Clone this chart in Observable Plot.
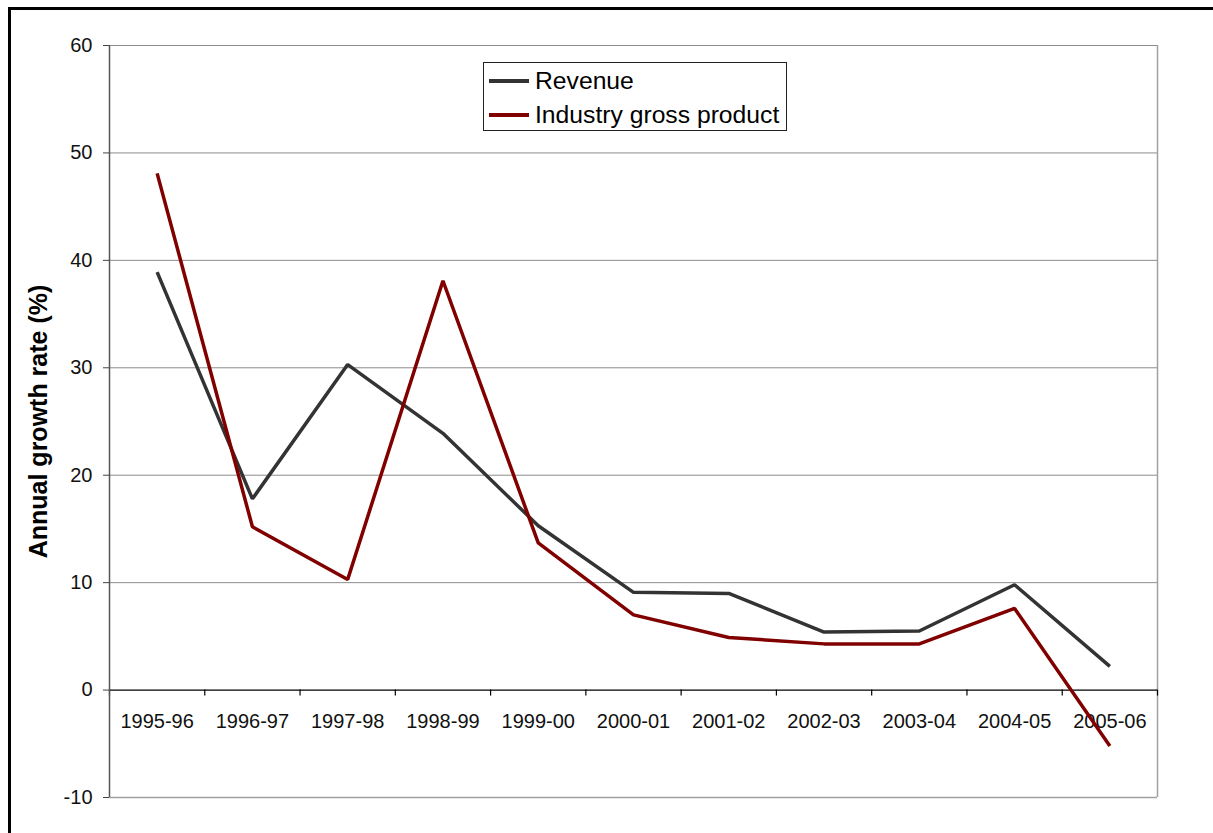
<!DOCTYPE html>
<html>
<head>
<meta charset="utf-8">
<script src="https://cdn.jsdelivr.net/npm/d3@7"></script>
<script src="https://cdn.jsdelivr.net/npm/@observablehq/plot@0.6"></script>
<style>
  html, body { margin: 0; padding: 0; background: #fff; }
  body { width: 1213px; height: 833px; position: relative; overflow: hidden; font-family: "Liberation Sans", Arial, sans-serif; }
  #border { position: absolute; left: 8px; top: 7px; width: 1300px; height: 900px; border-left: 3px solid #000; border-top: 3px solid #000; box-sizing: border-box; }
  #chart { position: absolute; left: 0; top: 0; }
  #legend { position: absolute; left: 483px; top: 62px; width: 304px; height: 69px; border: 1px solid #222; background: #fff; box-sizing: border-box; }
  .item { position: absolute; left: 5px; height: 28px; display: flex; align-items: center; font-size: 24.7px; line-height: 28px; color: #000; white-space: nowrap; }
  .swatch { width: 40px; height: 3.5px; margin-right: 6px; }
</style>
</head>
<body>
<div id="border"></div>
<div id="chart"></div>
<div id="legend"></div>
<script>
// Financial years
const years = ["1995-96", "1996-97", "1997-98", "1998-99", "1999-00", "2000-01",
               "2001-02", "2002-03", "2003-04", "2004-05", "2005-06"];
// Annual growth rate (%)
const revenue = [38.9, 17.8, 30.3, 23.9, 15.3, 9.1, 9.0, 5.4, 5.5, 9.8, 2.2];
const grossProduct = [48.1, 15.2, 10.3, 38.1, 13.7, 7.0, 4.9, 4.3, 4.3, 7.6, -5.2];
const yTicks = [-10, 0, 10, 20, 30, 40, 50, 60];

const seriesNames = ["Revenue", "Industry gross product"];
const seriesColors = ["#333333", "#800000"];

const rows = [];
years.forEach((yr, i) => {
  rows.push({i, year: yr, value: revenue[i], series: seriesNames[0]});
  rows.push({i, year: yr, value: grossProduct[i], series: seriesNames[1]});
});

// category boundaries for the x-axis tick marks
const boundaries = d3.range(years.length + 1).map(k => k - 0.5);

const chart = Plot.plot({
  width: 1213,
  height: 833,
  marginLeft: 109,
  marginRight: 56,
  marginTop: 45,
  marginBottom: 36,
  style: {fontFamily: "Liberation Sans, Arial, sans-serif", fontSize: "20px", color: "#111", background: "transparent"},
  x: {domain: [-0.5, years.length - 0.5], axis: null},
  y: {domain: [-10, 60]},
  color: {domain: seriesNames, range: seriesColors},
  marks: [
    // horizontal gridlines
    Plot.ruleY(yTicks.filter(t => t !== 0 && t !== -10), {stroke: "#8c8c8c", strokeWidth: 1}),
    // plot-area right and bottom edges
    Plot.ruleX([years.length - 0.5], {stroke: "#a0a0a0", strokeWidth: 1.5}),
    Plot.ruleY([-10], {stroke: "#a0a0a0", strokeWidth: 1.5}),
    // zero line
    Plot.ruleY([0], {stroke: "#000", strokeWidth: 1.2}),
    // category boundary ticks below the zero line
    Plot.ruleX(boundaries, {y1: 0, y2: 0, insetBottom: -6, stroke: "#000", strokeWidth: 1.2}),
    // left axis line
    Plot.ruleX([-0.5], {stroke: "#555", strokeWidth: 1.5}),
    Plot.axisY({
      ticks: yTicks, tickSize: 6, tickPadding: 11, stroke: "#444",
      tickFormat: d => String(d), label: null, fontSize: 20
    }),
    Plot.text(["Annual growth rate (%)"], {
      frameAnchor: "left", textAnchor: "middle", dx: -71, rotate: -90,
      fontWeight: "bold", fontSize: 25, fill: "#000"
    }),
    // category labels beneath the zero line
    Plot.text(years, {x: (d, i) => i, y: 0, text: d => d, dy: 32, fontSize: 20, fill: "#111"}),
    Plot.line(rows, {
      x: "i", y: "value", z: "series", stroke: "series",
      strokeWidth: 3.5, strokeLinejoin: "miter", strokeLinecap: "butt"
    })
  ]
});
document.getElementById("chart").appendChild(chart);

// legend
const legend = document.getElementById("legend");
seriesNames.forEach((name, k) => {
  const item = document.createElement("div");
  item.className = "item";
  item.style.top = (k === 0 ? 4 : 38) + "px";
  const sw = document.createElement("span");
  sw.className = "swatch";
  sw.style.background = seriesColors[k];
  const label = document.createElement("span");
  label.textContent = name;
  item.appendChild(sw);
  item.appendChild(label);
  legend.appendChild(item);
});
</script>
</body>
</html>
